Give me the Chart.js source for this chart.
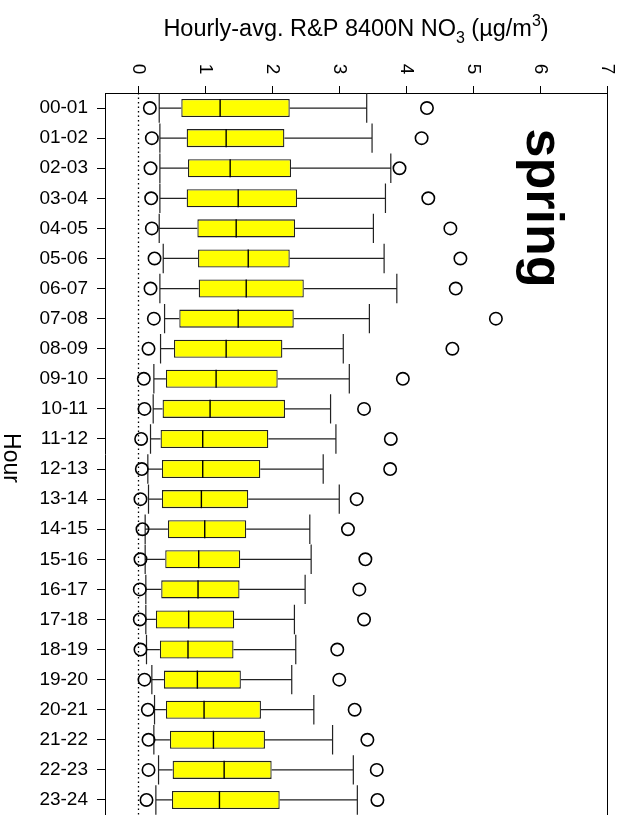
<!DOCTYPE html>
<html>
<head>
<meta charset="utf-8">
<script src="https://cdn.jsdelivr.net/npm/chart.js@4/dist/chart.umd.min.js"></script>
<style>
  html, body { margin: 0; padding: 0; background: #fff; }
  canvas { display: block; }
</style>
</head>
<body>
<canvas id="c" width="622" height="815"></canvas>
<script>
// Hour-of-day categories
const hours = ['00-01','01-02','02-03','03-04','04-05','05-06','06-07','07-08',
               '08-09','09-10','10-11','11-12','12-13','13-14','14-15','15-16',
               '16-17','17-18','18-19','19-20','20-21','21-22','22-23','23-24'];

// Box statistics per hour (µg/m³)
const lowPoint  = [0.17,0.20,0.18,0.19,0.20,0.24,0.18,0.23,0.15,0.08,0.09,0.04,
                   0.05,0.03,0.06,0.03,0.02,0.02,0.03,0.09,0.14,0.15,0.15,0.12];
const whiskerLo = [0.31,0.32,0.32,0.32,0.31,0.37,0.32,0.39,0.33,0.23,0.22,0.18,
                   0.14,0.15,0.10,0.10,0.11,0.11,0.12,0.20,0.24,0.23,0.30,0.26];
const q1        = [0.64,0.72,0.74,0.72,0.88,0.89,0.90,0.61,0.53,0.41,0.36,0.33,
                   0.35,0.35,0.44,0.40,0.34,0.26,0.32,0.38,0.41,0.47,0.51,0.50];
const median    = [1.22,1.31,1.37,1.49,1.46,1.64,1.61,1.49,1.31,1.16,1.07,0.96,
                   0.96,0.94,0.99,0.90,0.89,0.75,0.74,0.88,0.98,1.12,1.28,1.21];
const q3        = [2.26,2.18,2.28,2.37,2.34,2.26,2.47,2.32,2.15,2.08,2.19,1.94,
                   1.82,1.64,1.61,1.52,1.51,1.43,1.42,1.53,1.83,1.89,1.99,2.11];
const whiskerHi = [3.41,3.49,3.77,3.69,3.51,3.67,3.86,3.45,3.06,3.15,2.87,2.95,
                   2.76,3.00,2.56,2.58,2.49,2.33,2.35,2.29,2.62,2.90,3.21,3.27];
const highPoint = [4.31,4.23,3.90,4.33,4.66,4.81,4.74,5.34,4.69,3.95,3.37,3.77,
                   3.76,3.26,3.13,3.39,3.30,3.37,2.97,3.00,3.23,3.42,3.56,3.57];

// Value-axis ticks
const xTickValues = [0, 1, 2, 3, 4, 5, 6, 7];
const xTickLabels = ['0', '1', '2', '3', '4', '5', '6', '7'];

const FONT = "'Liberation Sans', Arial, sans-serif";

// Whiskers, caps, medians, zero reference line, frame and rotated texts
const boxExtras = {
  id: 'boxExtras',
  beforeDatasetsDraw(chart) {
    const { ctx, chartArea: a, scales: { x, y } } = chart;
    ctx.save();
    // dotted zero line
    ctx.strokeStyle = '#000';
    ctx.lineWidth = 1.3;
    ctx.setLineDash([1.5, 3]);
    const x0 = Math.round(x.getPixelForValue(0)) + 0.5;
    ctx.beginPath();
    ctx.moveTo(x0, a.top);
    ctx.lineTo(x0, a.bottom);
    ctx.stroke();
    ctx.setLineDash([]);

    // whiskers and caps
    const rowH = (a.bottom - a.top) / hours.length;
    ctx.strokeStyle = '#222';
    ctx.lineWidth = 1.2;
    hours.forEach((h, i) => {
      const yc = y.getPixelForValue(i);
      const xl = x.getPixelForValue(whiskerLo[i]);
      const xq1 = x.getPixelForValue(q1[i]);
      const xq3 = x.getPixelForValue(q3[i]);
      const xh = x.getPixelForValue(whiskerHi[i]);
      ctx.beginPath();
      ctx.moveTo(xl, yc); ctx.lineTo(xq1, yc);
      ctx.moveTo(xq3, yc); ctx.lineTo(xh, yc);
      ctx.moveTo(xl, yc - rowH * 0.49); ctx.lineTo(xl, yc + rowH * 0.49);
      ctx.moveTo(xh, yc - rowH * 0.49); ctx.lineTo(xh, yc + rowH * 0.49);
      ctx.stroke();
    });

    // right frame line
    ctx.strokeStyle = '#000';
    ctx.lineWidth = 1;
    ctx.beginPath();
    ctx.moveTo(a.right + 0.5, a.top);
    ctx.lineTo(a.right + 0.5, a.bottom);
    ctx.stroke();
    ctx.restore();
  },
  afterDatasetsDraw(chart) {
    const { ctx, chartArea: a, scales: { x, y } } = chart;
    const rowH = (a.bottom - a.top) / hours.length;
    const half = rowH * 0.3;
    ctx.save();
    // medians
    ctx.strokeStyle = '#000';
    ctx.lineWidth = 1.4;
    hours.forEach((h, i) => {
      const yc = y.getPixelForValue(i);
      const xm = x.getPixelForValue(median[i]);
      ctx.beginPath();
      ctx.moveTo(xm, yc - half);
      ctx.lineTo(xm, yc + half);
      ctx.stroke();
    });
    ctx.restore();
  },
  afterDraw(chart) {
    const { ctx, chartArea: a, scales: { x } } = chart;
    ctx.save();
    ctx.fillStyle = '#000';

    // rotated value-axis tick labels
    ctx.font = `19px ${FONT}`;
    ctx.textAlign = 'center';
    ctx.textBaseline = 'middle';
    xTickValues.forEach((v, i) => {
      ctx.save();
      ctx.translate(x.getPixelForValue(v), 69);
      ctx.rotate(Math.PI / 2);
      ctx.fillText(xTickLabels[i], 0, 0);
      ctx.restore();
    });

    // axis title with subscript and superscript
    const parts = [
      { t: 'Hourly-avg. R&P 8400N NO', s: 23.5, dy: 0 },
      { t: '3', s: 16, dy: 7 },
      { t: ' (µg/m', s: 23.5, dy: 0 },
      { t: '3', s: 16, dy: -10 },
      { t: ')', s: 23.5, dy: 0 }
    ];
    let total = 0;
    parts.forEach(p => { ctx.font = `${p.s}px ${FONT}`; p.w = ctx.measureText(p.t).width; total += p.w; });
    let cx = (a.left + a.right) / 2 - total / 2;
    ctx.textAlign = 'left';
    ctx.textBaseline = 'alphabetic';
    parts.forEach(p => {
      ctx.font = `${p.s}px ${FONT}`;
      ctx.fillText(p.t, cx, 36 + p.dy);
      cx += p.w;
    });

    // category-axis title
    ctx.font = `23px ${FONT}`;
    ctx.textAlign = 'center';
    ctx.textBaseline = 'middle';
    ctx.save();
    ctx.translate(10, 458);
    ctx.rotate(Math.PI / 2);
    ctx.fillText('Hour', 0, 0);
    ctx.restore();

    // season label
    ctx.font = `bold 52px ${FONT}`;
    ctx.save();
    ctx.translate(541, 208);
    ctx.rotate(Math.PI / 2);
    ctx.fillText('spring', 0, 0);
    ctx.restore();

    ctx.restore();
  }
};

new Chart(document.getElementById('c'), {
  type: 'bar',
  data: {
    labels: hours,
    datasets: [
      {
        type: 'bar',
        label: 'IQR',
        data: hours.map((h, i) => [q1[i], q3[i]]),
        backgroundColor: '#ffff00',
        borderColor: '#222',
        borderWidth: 1.3,
        borderSkipped: false,
        barPercentage: 0.6,
        categoryPercentage: 1,
        grouped: false,
        order: 2
      },
      {
        type: 'scatter',
        label: 'low',
        data: hours.map((h, i) => ({ x: lowPoint[i], y: h })),
        pointStyle: 'circle',
        pointRadius: 6.2,
        borderWidth: 1.6,
        borderColor: '#000',
        backgroundColor: 'rgba(255,255,255,0)',
        showLine: false,
        order: 1
      },
      {
        type: 'scatter',
        label: 'high',
        data: hours.map((h, i) => ({ x: highPoint[i], y: h })),
        pointStyle: 'circle',
        pointRadius: 6.2,
        borderWidth: 1.6,
        borderColor: '#000',
        backgroundColor: 'rgba(255,255,255,0)',
        showLine: false,
        order: 1
      }
    ]
  },
  options: {
    indexAxis: 'y',
    responsive: false,
    animation: false,
    devicePixelRatio: 1,
    events: [],
    layout: { autoPadding: false, padding: { left: 0, right: 15, top: 0, bottom: 0 } },
    plugins: { legend: { display: false }, tooltip: { enabled: false }, title: { display: false } },
    scales: {
      x: {
        type: 'linear',
        position: 'top',
        min: -0.5,
        max: 7,
        afterBuildTicks: s => { s.ticks = xTickValues.map(v => ({ value: v })); },
        afterFit: s => { s.height = 93; s.paddingLeft = 0; s.paddingRight = 0; },
        ticks: { display: false },
        grid: { drawOnChartArea: false, drawTicks: true, tickLength: 7, color: '#000', lineWidth: 1 },
        border: { display: true, color: '#000', width: 1 }
      },
      y: {
        type: 'category',
        position: 'left',
        offset: true,
        afterFit: s => { s.width = 105; s.paddingTop = 0; s.paddingBottom = 0; },
        ticks: {
          autoSkip: false,
          color: '#000',
          padding: 9,
          font: { family: FONT, size: 19 }
        },
        grid: { drawOnChartArea: false, offset: false, drawTicks: true, tickLength: 8, color: '#000', lineWidth: 1 },
        border: { display: true, color: '#000', width: 1 }
      }
    }
  },
  plugins: [boxExtras]
});
</script>
</body>
</html>
